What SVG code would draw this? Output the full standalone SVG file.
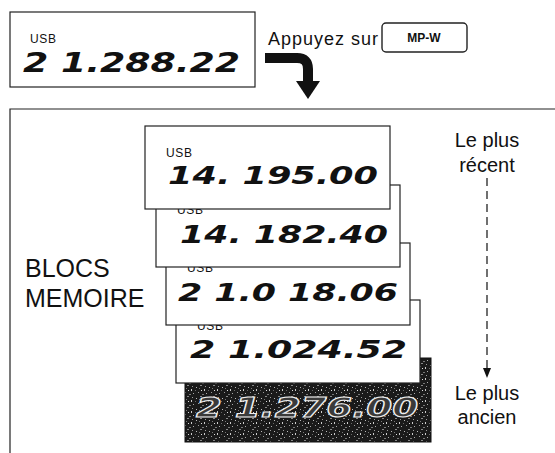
<svg xmlns="http://www.w3.org/2000/svg" width="555" height="453" viewBox="0 0 555 453">
<style>
.frame{fill:none;stroke:#222;stroke-width:1.2}
.disp{fill:#fff;stroke:#222;stroke-width:1.2}
.usb{font-family:"Liberation Sans",Arial,sans-serif;font-size:12px;fill:#111}
.lcd{font-family:"DejaVu Sans",sans-serif;font-weight:bold;font-style:italic;font-size:24px;fill:#111}
.lbl{font-family:"Liberation Sans",Arial,sans-serif;fill:#111}
.conn{fill:none;stroke:#111}
</style>
<defs>
<pattern id="noise" width="13" height="11" patternUnits="userSpaceOnUse">
<rect width="13" height="11" fill="#1a1a1a"/>
<rect x="1" y="2" width="1" height="1" fill="#bbb"/>
<rect x="5" y="0" width="2" height="1" fill="#888"/>
<rect x="9" y="4" width="1" height="2" fill="#ccc"/>
<rect x="3" y="7" width="1" height="1" fill="#999"/>
<rect x="11" y="8" width="1" height="1" fill="#aaa"/>
<rect x="7" y="9" width="2" height="1" fill="#777"/>
<rect x="0" y="5" width="1" height="1" fill="#666"/>
<rect x="6" y="5" width="1" height="1" fill="#ddd"/>
<rect x="10" y="1" width="1" height="1" fill="#999"/>
<rect x="4" y="3" width="1" height="1" fill="#777"/>
</pattern>
</defs>

<g id="top-display">
<rect class="frame" x="10" y="12" width="245" height="75"/>
<text class="usb" x="30" y="43" textLength="26">USB</text>
<text class="lcd" x="23" y="72" style="font-size:27px" textLength="217" lengthAdjust="spacingAndGlyphs">2 1.288.22</text>
</g>

<g id="instruction">
<text class="lbl" x="268" y="45" style="font-size:18px" textLength="110">Appuyez sur</text>
</g>

<g id="mpw-button">
<rect x="382" y="23" width="85" height="29" rx="4" fill="#fff" stroke="#222" stroke-width="1.4"/>
<text class="lbl" x="424" y="42" text-anchor="middle" style="font-size:12px;font-weight:bold">MP-W</text>
</g>

<g id="memory-frame">
<path class="frame" d="M10,453 V109 H556"/>
</g>

<g id="block-5">
<rect x="185" y="358" width="246" height="84" fill="url(#noise)" stroke="#111" stroke-width="1"/>
<text class="lcd" x="196" y="417" style="font-size:26px;fill:#3a3a3a;stroke:#eee;stroke-width:1.1" textLength="222" lengthAdjust="spacingAndGlyphs">2 1.276.00</text>
</g>

<g id="block-4">
<rect class="disp" x="176" y="300" width="244" height="83"/>
<text class="usb" x="197" y="330" textLength="26">USB</text>
<text class="lcd" x="190" y="358" textLength="217" lengthAdjust="spacingAndGlyphs">2 1.024.52</text>
</g>

<g id="block-3">
<rect class="disp" x="166" y="243" width="244" height="82"/>
<text class="usb" x="187" y="272" textLength="26">USB</text>
<text class="lcd" x="178" y="301" textLength="220" lengthAdjust="spacingAndGlyphs">2 1.0 18.06</text>
</g>

<g id="block-2">
<rect class="disp" x="156" y="185" width="244" height="82"/>
<text class="usb" x="177" y="214" textLength="26">USB</text>
<text class="lcd" x="180" y="243" textLength="208" lengthAdjust="spacingAndGlyphs">14. 182.40</text>
</g>

<g id="block-1">
<rect class="disp" x="145" y="126" width="245" height="83"/>
<text class="usb" x="166" y="157" textLength="26">USB</text>
<text class="lcd" x="168" y="184" textLength="210" lengthAdjust="spacingAndGlyphs">14. 195.00</text>
</g>

<g id="label-blocs">
<text class="lbl" x="25" y="277" style="font-size:25px">BLOCS</text>
<text class="lbl" x="25" y="307" style="font-size:25px">MEMOIRE</text>
</g>

<g id="label-recent">
<text class="lbl" x="487" y="147" text-anchor="middle" style="font-size:20px">Le plus</text>
<text class="lbl" x="487" y="172" text-anchor="middle" style="font-size:20px">récent</text>
</g>

<g id="label-ancien">
<text class="lbl" x="487" y="400" text-anchor="middle" style="font-size:20px">Le plus</text>
<text class="lbl" x="487" y="424" text-anchor="middle" style="font-size:20px">ancien</text>
</g>

<g id="connectors">
<path class="conn" d="M265,58 H297 Q308,58 308,69 V83" stroke-width="10"/>
<polygon points="296,81 320,81 308,99" fill="#111"/>
<line class="conn" x1="487" y1="178" x2="487" y2="370" stroke-width="1.2" stroke-dasharray="8 5"/>
<polygon points="483,368 491,368 487,378" fill="#111"/>
</g>
</svg>
